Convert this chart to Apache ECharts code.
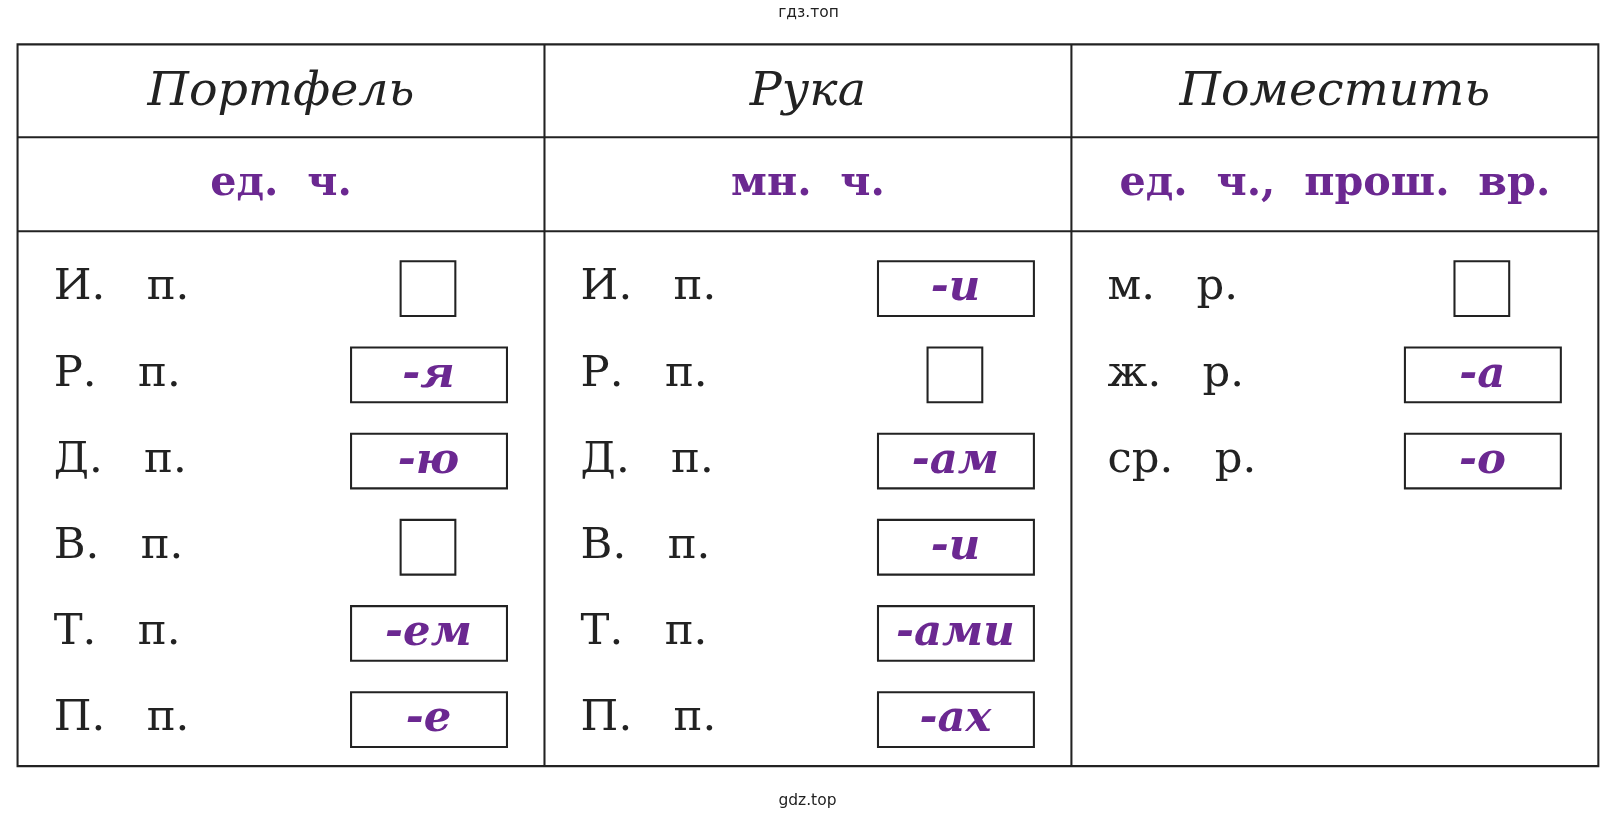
<!DOCTYPE html>
<html><head><meta charset="utf-8">
<script src="https://cdn.jsdelivr.net/npm/echarts@6/dist/echarts.min.js"></script>
<style>html,body{margin:0;padding:0;background:#fff}#c{width:1619px;height:823px}</style>
</head><body><div id="c"></div>
<script>
const headers = ['Портфель', 'Рука', 'Поместить'];
const subHeaders = ['ед.  ч.', 'мн.  ч.', 'ед.  ч.,  прош.  вр.'];
const rowLabels = [
  ['И.   п.', 'Р.   п.', 'Д.   п.', 'В.   п.', 'Т.   п.', 'П.   п.'],
  ['И.   п.', 'Р.   п.', 'Д.   п.', 'В.   п.', 'Т.   п.', 'П.   п.'],
  ['м.   р.', 'ж.   р.', 'ср.   р.']
];
const endings = [
  ['', '-я', '-ю', '', '-ем', '-е'],
  ['-и', '', '-ам', '-и', '-ами', '-ах'],
  ['', '-а', '-о']
];
const topText = 'гдз.топ', bottomText = 'gdz.top';

const L = 17, R = 1548, T = 43, B = 742, colW = (R - L) / 3;
const H1 = 133, H2 = 224, rowY0 = 279, rowStep = 83.5;
const purple = '#6b2891', ink = '#222';
const g = [];
g.push({type:'rect', shape:{x:L,y:T,width:R-L,height:B-T}, style:{fill:'none',stroke:ink,lineWidth:2}});
[H1,H2].forEach(y=>g.push({type:'line',shape:{x1:L,y1:y,x2:R,y2:y},style:{stroke:ink,lineWidth:2}}));
[1,2].forEach(i=>g.push({type:'line',shape:{x1:L+colW*i,y1:T,x2:L+colW*i,y2:B},style:{stroke:ink,lineWidth:2}}));
headers.forEach((h,i)=>{
  const cx = L+colW*i+colW/2;
  g.push({type:'text',x:cx,y:(T+H1)/2+2,style:{text:h,font:'italic 46px "DejaVu Serif"',fill:ink,align:'center',verticalAlign:'middle'}});
  g.push({type:'text',x:cx,y:(H1+H2)/2,style:{text:subHeaders[i],font:'bold 40px "DejaVu Serif"',fill:purple,align:'center',verticalAlign:'middle'}});
  rowLabels[i].forEach((lab,r)=>{
    const y = rowY0 + rowStep*r;
    const x0 = L+colW*i;
    g.push({type:'text',x:x0+35,y:y,style:{text:lab,font:'42px "DejaVu Serif"',fill:ink,align:'left',verticalAlign:'middle'}});
    const e = endings[i][r];
    if (e) {
      g.push({type:'rect',shape:{x:x0+323,y:y-26,width:151,height:53},style:{fill:'#fff',stroke:ink,lineWidth:2}});
      g.push({type:'text',x:x0+398,y:y+1,style:{text:e,font:'bold italic 42px "DejaVu Serif"',fill:purple,align:'center',verticalAlign:'middle'}});
    } else {
      g.push({type:'rect',shape:{x:x0+371,y:y-26,width:53,height:53},style:{fill:'#fff',stroke:ink,lineWidth:2}});
    }
  });
});
g.push({type:'text',x:783,y:13,style:{text:topText,font:'15px "DejaVu Sans"',fill:ink,align:'center',verticalAlign:'middle'}});
g.push({type:'text',x:782,y:776,style:{text:bottomText,font:'15px "DejaVu Sans"',fill:ink,align:'center',verticalAlign:'middle'}});

const s = 1619/1568;
const chart = echarts.init(document.getElementById('c'));
chart.setOption({animation:false, backgroundColor:'#fff', graphic:{elements:[{type:'group',scaleX:s,scaleY:s,children:g}]}});
</script></body></html>
